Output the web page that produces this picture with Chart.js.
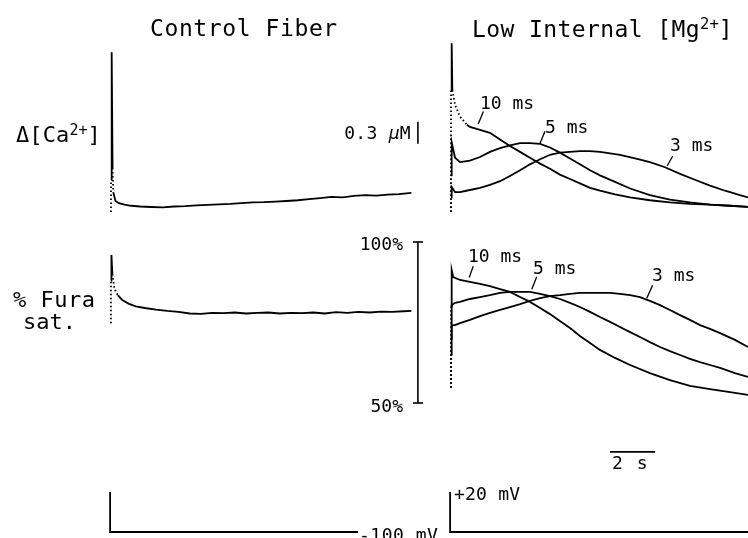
<!DOCTYPE html>
<html>
<head>
<meta charset="utf-8">
<script src="https://cdn.jsdelivr.net/npm/chart.js@4/dist/chart.umd.min.js"></script>
<style>
  html, body { margin: 0; padding: 0; background: #fff; }
  #wrap { position: relative; width: 748px; height: 538px; overflow: hidden; background: #fff; }
  #wrap canvas { position: absolute; left: 0; top: 0; }
  .lbl { position: absolute; white-space: nowrap; line-height: 1; color: #000;
         font-family: 'DejaVu Sans Mono', monospace; }
  .lbl sup { font-size: 0.68em; position: relative; top: -0.5em; vertical-align: baseline; line-height: 0; letter-spacing: 0; }
</style>
</head>
<body>
<div id="wrap"></div>
<script>
// ================= DATA =================
// time in s after the stimulus, [Ca2+] change in µM, Fura saturation in %, membrane potential in mV

// Control fiber, Δ[Ca2+]
const tCaControl = [0, 0, 0.03, 0.07, 0.1, 0.2, 0.35, 0.6, 0.9, 1.3, 1.8, 2.3, 2.8, 3.3, 3.8, 4.3, 4.8, 5.3, 5.8, 6.3, 6.8, 7.3, 7.8, 8.3, 8.8, 9.3, 9.8, 10.3, 10.8, 11.3, 11.8, 12.3, 12.8, 13.35];
const caControl  = [0, 0.44, 2.18, 0.6, 0.27, 0.15, 0.12, 0.1, 0.085, 0.075, 0.068, 0.062, 0.075, 0.08, 0.09, 0.096, 0.105, 0.11, 0.122, 0.13, 0.134, 0.142, 0.15, 0.16, 0.176, 0.19, 0.205, 0.2, 0.22, 0.23, 0.224, 0.236, 0.245, 0.26];

// Low internal Mg, Δ[Ca2+], pulse durations 10, 5, 3 ms
const tCa10 = [0, 0, 0.03, 0.06, 0.18, 0.4, 0.71, 0.84, 1.29, 1.73, 2.18, 2.62, 3.07, 3.51, 3.96, 4.4, 4.84, 5.29, 5.73, 6.18, 6.62, 7.29, 7.96, 8.84, 9.73, 10.62, 11.51, 12.4, 13.2];
const ca10  = [0, 1.66, 2.30, 1.66, 1.46, 1.30, 1.19, 1.16, 1.12, 1.08, 0.99, 0.9, 0.82, 0.74, 0.66, 0.59, 0.51, 0.45, 0.39, 0.33, 0.29, 0.24, 0.2, 0.16, 0.13, 0.11, 0.1, 0.085, 0.07];
const tCa5  = [0, 0, 0.03, 0.18, 0.4, 0.84, 1.29, 1.73, 2.18, 2.62, 3.07, 3.51, 3.96, 4.4, 4.84, 5.29, 5.73, 6.18, 6.62, 7.29, 7.96, 8.84, 9.73, 10.62, 11.51, 12.4, 13.2];
const ca5   = [0, 0.5, 0.95, 0.74, 0.68, 0.70, 0.75, 0.82, 0.87, 0.91, 0.94, 0.94, 0.93, 0.88, 0.81, 0.73, 0.65, 0.57, 0.5, 0.41, 0.32, 0.23, 0.17, 0.13, 0.1, 0.085, 0.07];
const tCa3  = [0, 0, 0.03, 0.18, 0.4, 0.84, 1.29, 1.73, 2.18, 2.62, 3.07, 3.51, 3.96, 4.4, 4.84, 5.29, 5.73, 6.18, 6.62, 7.07, 7.51, 8.18, 8.84, 9.51, 10.18, 10.84, 11.51, 12.18, 12.84, 13.2];
const ca3   = [0, 0.2, 0.34, 0.27, 0.27, 0.30, 0.33, 0.37, 0.42, 0.49, 0.57, 0.65, 0.72, 0.78, 0.81, 0.82, 0.83, 0.83, 0.82, 0.8, 0.78, 0.73, 0.68, 0.61, 0.52, 0.44, 0.36, 0.29, 0.23, 0.2];

// Control fiber, % Fura saturation
const tFuraControl = [0, 0, 0.02, 0.06, 0.15, 0.3, 0.5, 0.8, 1.1, 1.5, 2.0, 2.5, 3.0, 3.5, 4.0, 4.5, 5.0, 5.5, 6.0, 6.5, 7.0, 7.5, 8.0, 8.5, 9.0, 9.5, 10.0, 10.5, 11.0, 11.5, 12.0, 12.5, 13.0, 13.35];
const furaControl  = [74.8, 88, 96, 90, 85.5, 83.5, 82.0, 80.8, 80.0, 79.5, 79.0, 78.6, 78.3, 77.8, 77.7, 78.0, 77.9, 78.1, 77.8, 78.0, 78.1, 77.8, 78.0, 77.9, 78.1, 77.8, 78.2, 78.0, 78.3, 78.1, 78.4, 78.3, 78.5, 78.6];

// Low internal Mg, % Fura saturation
const tFura10 = [0, 0, 0.03, 0.1, 0.4, 0.84, 1.29, 1.73, 2.18, 2.62, 3.07, 3.51, 3.96, 4.4, 4.84, 5.29, 5.73, 6.18, 6.62, 7.29, 7.96, 8.84, 9.73, 10.62, 11.51, 12.4, 13.2];
const fura10  = [54.7, 80, 91.3, 89.1, 88.2, 87.6, 87.0, 86.3, 85.4, 84.5, 82.9, 81.4, 79.5, 77.6, 75.5, 73.3, 70.8, 68.6, 66.5, 64.0, 61.8, 59.3, 57.1, 55.3, 54.3, 53.4, 52.5];
const tFura5  = [0, 0, 0.03, 0.18, 0.4, 0.84, 1.29, 1.73, 2.18, 2.62, 3.07, 3.51, 3.96, 4.4, 4.84, 5.29, 5.73, 6.18, 6.62, 7.07, 7.51, 7.96, 8.4, 8.84, 9.29, 9.73, 10.18, 10.62, 11.07, 11.51, 11.96, 12.62, 13.2];
const fura5   = [54.7, 70, 80.4, 81.1, 81.4, 82.3, 82.9, 83.5, 84.2, 84.5, 84.5, 84.5, 83.9, 83.2, 82.3, 81.1, 79.8, 78.3, 76.7, 75.2, 73.6, 72.0, 70.5, 68.9, 67.4, 66.1, 64.9, 63.7, 62.7, 61.8, 60.9, 59.3, 58.1];
const tFura3  = [0, 0, 0.03, 0.18, 0.4, 0.84, 1.29, 1.73, 2.18, 2.62, 3.07, 3.51, 3.96, 4.4, 4.84, 5.29, 5.73, 6.18, 6.62, 7.07, 7.51, 7.96, 8.4, 8.84, 9.29, 9.73, 10.18, 10.62, 11.07, 11.51, 11.96, 12.62, 13.2];
const fura3   = [54.7, 65, 74.2, 74.2, 74.8, 75.8, 77.0, 78.0, 78.9, 79.8, 80.7, 81.7, 82.6, 83.2, 83.5, 83.9, 84.2, 84.2, 84.2, 84.2, 83.9, 83.5, 82.9, 81.7, 80.4, 78.9, 77.3, 75.8, 74.2, 73.0, 71.7, 69.6, 67.4];

// Voltage-clamp command: holding -100 mV, brief step to +20 mV
const tVoltControl = [0, 0, 0.01, 11.02];
const tVoltLowMg   = [0, 0, 0.01, 13.24];
const voltSteps    = [-100, 20, -100, -100];

// Calibration bars
const caBarX   = 13.64;        // s
const caBarY   = [0.93, 1.23]; // 0.3 µM
const furaBarX = [13.42, 13.64, 13.87];
const furaBarY = [50, 100];    // 50% .. 100%
const timeBarX = [7.07, 9.07]; // 2 s
const timeBarY = 34.8;

// Label leader ticks  [t0, y0, t1, y1]
const caLeaders   = [[1.21, 1.20, 1.44, 1.37], [3.96, 0.94, 4.18, 1.10], [9.61, 0.63, 9.85, 0.76]];
const furaLeaders = [[0.81, 89.0, 0.99, 92.5], [3.59, 85.3, 3.81, 89.2], [8.70, 82.5, 8.96, 86.6]];

// ================= RENDER =================
const W = 748, H = 538;
const wrap = document.getElementById('wrap');
const zip = (xs, ys) => xs.map((x, i) => ({ x: x, y: ys[i] }));

function trace(xs, ys, dashed, width) {
  const dset = dashed || [];
  return {
    data: zip(xs, ys),
    borderColor: '#000',
    borderWidth: width || 1.8,
    pointRadius: 0,
    tension: 0,
    clip: false,
    segment: { borderDash: c => dset.includes(c.p0DataIndex) ? [1.5, 2.5] : undefined }
  };
}
function seg(x0, y0, x1, y1, w) {
  return { data: [{x: x0, y: y0}, {x: x1, y: y1}], borderColor: '#000', borderWidth: w || 1.3,
           pointRadius: 0, tension: 0, clip: false };
}

function makeChart(pad, xr, yr, datasets) {
  const cv = document.createElement('canvas');
  cv.width = W; cv.height = H;
  cv.style.width = W + 'px'; cv.style.height = H + 'px';
  wrap.appendChild(cv);
  return new Chart(cv.getContext('2d'), {
    type: 'line',
    data: { datasets: datasets },
    options: {
      responsive: false, animation: false, devicePixelRatio: 1,
      layout: { padding: pad },
      plugins: { legend: { display: false }, tooltip: { enabled: false }, title: { display: false } },
      scales: {
        x: { type: 'linear', min: xr[0], max: xr[1], display: false },
        y: { type: 'linear', min: yr[0], max: yr[1], display: false }
      }
    }
  });
}

// pixel layout: 22.5 px per s; 22 px per 0.3 µM; 161 px per 50 %
const caPadV   = { top: 28.67, bottom: 318.67 }; // y -0.1 .. 2.5 µM
const furaPadV = { top: 225.9, bottom: 118.9 };  // y 45 .. 105 %
const voltPadV = { top: 482, bottom: 1 };        // y -115 .. 50 mV

// Top-left: control Δ[Ca2+] + 0.3 µM bar
makeChart(Object.assign({ left: 111, right: 331 }, caPadV), [0, 13.6], [-0.1, 2.5], [
  trace(tCaControl, caControl, [0, 3]),
  seg(caBarX, caBarY[0], caBarX, caBarY[1], 1.6)
]);

// Top-right: low Mg Δ[Ca2+]
makeChart(Object.assign({ left: 451, right: 0 }, caPadV), [0, 13.2], [-0.1, 2.5], [
  trace(tCa10, ca10, [0, 3, 4, 5]),
  trace(tCa5, ca5, [0]),
  trace(tCa3, ca3, [0]),
  ...caLeaders.map(l => seg(l[0], l[1], l[2], l[3]))
]);

// Middle-left: control % Fura sat + 50–100 % bar
makeChart(Object.assign({ left: 111, right: 331 }, furaPadV), [0, 13.6], [45, 105], [
  trace(tFuraControl, furaControl, [0, 3, 4]),
  seg(furaBarX[1], furaBarY[0], furaBarX[1], furaBarY[1], 1.6),
  seg(furaBarX[0], furaBarY[0], furaBarX[2], furaBarY[0], 1.6),
  seg(furaBarX[0], furaBarY[1], furaBarX[2], furaBarY[1], 1.6)
]);

// Middle-right: low Mg % Fura sat + 2 s bar
makeChart(Object.assign({ left: 451, right: 0 }, furaPadV), [0, 13.2], [45, 105], [
  trace(tFura10, fura10, [0]),
  trace(tFura5, fura5, [0]),
  trace(tFura3, fura3, [0]),
  ...furaLeaders.map(l => seg(l[0], l[1], l[2], l[3])),
  seg(timeBarX[0], timeBarY, timeBarX[1], timeBarY, 1.8)
]);

// Bottom: voltage commands
makeChart(Object.assign({ left: 110, right: 390 }, voltPadV), [0, 11.02], [-115, 50], [
  trace(tVoltControl, voltSteps, [], 1.8)
]);
makeChart(Object.assign({ left: 450, right: 0 }, voltPadV), [0, 13.24], [-115, 50], [
  trace(tVoltLowMg, voltSteps, [], 1.8)
]);

// ================= TEXT =================
const labels = [
  { html: 'Control Fiber', x: 150, cy: 28, fs: 23, ls: 0.6 },
  { html: 'Low Internal [Mg<sup>2+</sup>]', x: 472, cy: 29, fs: 23, ls: 0.4 },
  { html: '\u0394[Ca<sup>2+</sup>]', x: 16, cy: 135, fs: 22, ls: 0.1 },
  { html: '0.3 <i>\u00b5</i>M', xr: 411, cy: 133, fs: 18, ls: 0.3 },
  { html: '10 ms', x: 480, cy: 103, fs: 18, ls: 0 },
  { html: '5 ms', x: 545, cy: 127, fs: 18, ls: 0 },
  { html: '3 ms', x: 670, cy: 145, fs: 18, ls: 0 },
  { html: '% Fura', x: 13, cy: 300, fs: 22, ls: 0.5 },
  { html: 'sat.', x: 23, cy: 322, fs: 22, ls: 0 },
  { html: '100%', xr: 403, cy: 244, fs: 18, ls: 0 },
  { html: '50%', xr: 403, cy: 406, fs: 18, ls: 0 },
  { html: '10 ms', x: 468, cy: 256, fs: 18, ls: 0 },
  { html: '5 ms', x: 533, cy: 268, fs: 18, ls: 0 },
  { html: '3 ms', x: 652, cy: 275, fs: 18, ls: 0 },
  { html: '2 s', x: 612, cy: 463, fs: 18, ls: 1.5 },
  { html: '+20 mV', x: 454, cy: 494, fs: 18, ls: 0.2 },
  { html: '-100 mV', x: 359, cy: 535, fs: 18, ls: 0.5 }
];
labels.forEach(l => {
  const d = document.createElement('div');
  d.className = 'lbl';
  d.innerHTML = l.html;
  d.style.fontSize = l.fs + 'px';
  d.style.letterSpacing = l.ls + 'px';
  d.style.top = (l.cy - 0.48 * l.fs) + 'px';
  if (l.xr !== undefined) d.style.right = (W - l.xr) + 'px';
  else d.style.left = l.x + 'px';
  wrap.appendChild(d);
});
</script>
</body>
</html>
